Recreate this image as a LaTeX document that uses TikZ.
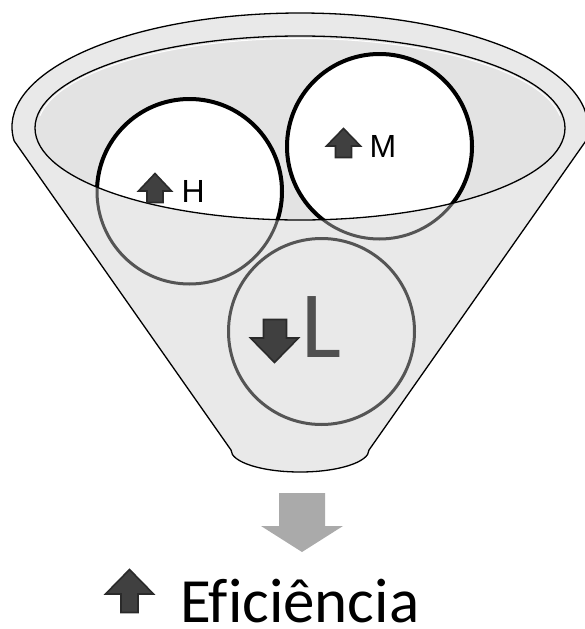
\documentclass[tikz,border=0pt]{standalone}
\usepackage{fontspec}
\setmainfont[Ligatures=NoCommon]{Carlito}
\newfontfamily\labelfont{Liberation Sans}
\usetikzlibrary{calc}

\definecolor{funnelfill}{HTML}{E9E9E9}
\definecolor{mouthfill}{HTML}{E3E3E3}
\definecolor{ringgray}{HTML}{555555}
\definecolor{arrowfill}{HTML}{404040}
\definecolor{arrowedge}{HTML}{2A2A2A}
\definecolor{flowgray}{HTML}{AAAAAA}
\definecolor{lettergray}{HTML}{505050}

\tikzset{
  funnelline/.style={draw=black, line width=1.3},
  backring/.style={draw=ringgray, line width=3},
  frontring/.style={draw=black, line width=4},
  blockarrow/.style={fill=arrowfill, draw=arrowedge, line width=1.6, line join=miter},
  flowarrow/.style={fill=flowgray},
  smalllabel/.style={font=\labelfont\fontsize{32}{32}\selectfont, anchor=base west, inner sep=0pt, outer sep=0pt},
}

\begin{document}
\begin{tikzpicture}[x=1pt, y=-1pt]
\useasboundingbox (0,0) rectangle (585,629);

% funnel body: top rim arc, sloping sides, rounded spout
\path[funnelline, fill=funnelfill]
  (14.15,140.9) arc[start angle=173, end angle=367, x radius=288, y radius=114]
  -- (369,450) arc[start angle=0, end angle=180, x radius=69, y radius=22]
  -- cycle;

% opening of the funnel
\coordinate (mouth) at (300,128);
\fill[mouthfill] (mouth) ellipse[x radius=265, y radius=92];
\draw[white, line width=1]
  ($(mouth)+(188:262.5 and 89.5)$) arc[start angle=188, end angle=352, x radius=262.5, y radius=89.5];

% the three groups
\coordinate (hc) at (189.5,191.5);
\coordinate (mc) at (379.5,146.5);
\coordinate (lc) at (321.5,331.5);
\draw[backring] (hc) circle[radius=92.5];
\draw[backring] (mc) circle[radius=92.5];
\draw[backring] (lc) circle[radius=93];

% parts of the groups seen inside the opening
\begin{scope}
  \clip (mouth) ellipse[x radius=265, y radius=92];
  \fill[white] (hc) circle[radius=92.5];
  \fill[white] (mc) circle[radius=92.5];
  \draw[frontring] (hc) circle[radius=92.5];
  \draw[frontring] (mc) circle[radius=92.5];
\end{scope}

\draw[funnelline] (mouth) ellipse[x radius=265, y radius=92];

% H label
\draw[blockarrow] (155,173.5) -- (171.5,191) -- (163,191) -- (163,202.5) -- (147,202.5) -- (147,191) -- (138.5,191) -- cycle;
\node[smalllabel] (hlabel) at (181.5,202) {H};

% M label
\draw[blockarrow] (343.5,128.5) -- (360.5,146) -- (351.5,146) -- (351.5,157.5) -- (335.5,157.5) -- (335.5,146) -- (326.5,146) -- cycle;
\node[smalllabel] (mlabel) at (369.6,157) {M};

% L label
\draw[blockarrow] (263.5,319.5) -- (286.5,319.5) -- (286.5,338) -- (298.5,338) -- (274.5,362.5) -- (250.5,338) -- (263.5,338) -- cycle;
\node[font=\fontsize{95}{95}\selectfont, text=lettergray, anchor=base west, inner sep=0pt, outer sep=0pt] (llabel) at (301,357) {L};

% outflow arrow
\fill[flowarrow] (279,493) -- (325,493) -- (325,526) -- (343,526) -- (302,552) -- (261,526) -- (279,526) -- cycle;

% result
\draw[blockarrow] (129.5,569.5) -- (153.5,594) -- (138,594) -- (138,612.5) -- (121,612.5) -- (121,594) -- (105.5,594) -- cycle;
\node[font=\fontsize{63}{63}\selectfont, anchor=base west, inner sep=0pt, outer sep=0pt] (result) at (180,622) {\raisebox{0pt}[\height][0pt]{Eficiência}};
\end{tikzpicture}
\end{document}
